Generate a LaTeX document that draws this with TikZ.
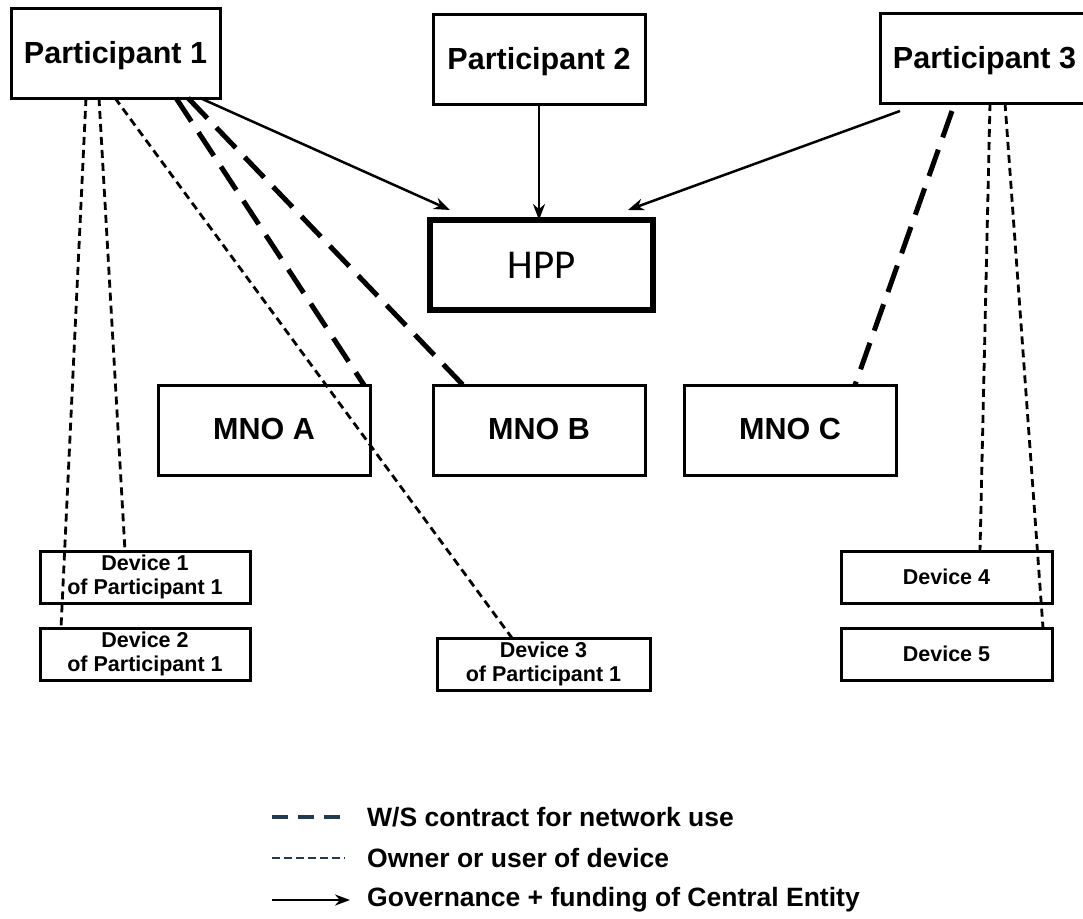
\documentclass[tikz,border=0pt]{standalone}
\usepackage{fontspec}
\setmainfont{Liberation Sans}
\newfontfamily\carlito{Carlito}
\usetikzlibrary{arrows.meta,calc}
\definecolor{legblue}{HTML}{23394F}
\begin{document}
\begin{tikzpicture}[x=1pt,y=-1pt,
  box/.style={draw,line width=3pt,inner sep=0pt,outer sep=0pt,anchor=north west,align=center},
  bigbox/.style={box,minimum height=90pt,text depth=2pt,font=\fontsize{30.5}{32}\selectfont\bfseries},
  devbox/.style={box,minimum height=52pt,font=\fontsize{21.5}{23.5}\selectfont\bfseries},
  thin dash/.style={line width=2.8pt,dash pattern=on 8pt off 5pt},
  thick dash/.style={line width=5pt,dash pattern=on 28pt off 13pt},
  gov/.style={line width=2.5pt,-{Stealth[length=16pt,width=12pt]}},
  legtext/.style={anchor=west,inner sep=0pt,font=\fontsize{26.5}{28}\selectfont\bfseries}
]
\useasboundingbox (0,0) rectangle (1083,918);
% top row
\node[bigbox,minimum width=209pt] (p1) at (11,8) {Participant 1};
\node[bigbox,minimum width=212pt] (p2) at (433,14) {Participant 2};
\node[bigbox,minimum width=209pt] (p3) at (880,13) {Participant 3};
% HPP
\node[box,line width=5.5pt,minimum width=223pt,minimum height=90pt,font=\carlito\fontsize{41}{42}\selectfont] (hpp) at (430,220) {HPP};
% MNOs
\node[bigbox,minimum width=212pt] (mnoa) at (158,385) {MNO A};
\node[bigbox,minimum width=212pt] (mnob) at (433,385) {MNO B};
\node[bigbox,minimum width=212pt] (mnoc) at (684,385) {MNO C};
% devices
\node[devbox,minimum width=210pt] (d1) at (40,551) {Device 1\\of Participant 1};
\node[devbox,minimum width=210pt] (d2) at (40,628) {Device 2\\of Participant 1};
\node[devbox,minimum width=213pt] (d3) at (437,638) {Device 3\\of Participant 1};
\node[devbox,minimum width=211pt] (d4) at (841,551) {Device 4};
\node[devbox,minimum width=211pt] (d5) at (841,628) {Device 5};
% Participant 1 connectors
\draw[thin dash] ([xshift=75pt]p1.south west) -- ([xshift=21pt]d2.north west);
\draw[thin dash] ([xshift=88pt]p1.south west) -- ([xshift=85pt]d1.north west);
\draw[thin dash] ([xshift=104pt]p1.south west) -- ([xshift=75pt]d3.north west);
\draw[thick dash] ([xshift=165pt]p1.south west) -- ([xshift=206pt]mnoa.north west);
\draw[thick dash] ([xshift=177pt]p1.south west) -- ([xshift=30pt]mnob.north west);
\coordinate (hppl) at ([xshift=20pt,yshift=10pt]hpp.north west);
\draw[gov] ([xshift=189pt]p1.south west) -- (hppl);
% Participant 2
\draw[gov] (p2.south) -- (p2.south |- hpp.north);
% Participant 3 connectors
\coordinate (p3a) at ([xshift=20pt,yshift=-8pt]p3.south west);
\coordinate (hppr) at ([xshift=-25pt,yshift=10pt]hpp.north east);
\draw[gov] (p3a) -- (hppr);
\draw[thick dash] ([xshift=72pt,yshift=-8pt]p3.south west) -- ([xshift=171pt]mnoc.north west);
\draw[thin dash] ([xshift=110pt]p3.south west) -- ([xshift=139pt]d4.north west);
\draw[thin dash] ([xshift=125pt]p3.south west) -- ([xshift=202pt]d5.north west);
% legend
\coordinate (l1a) at (272,817); \coordinate (l1b) at (345,817);
\coordinate (l2a) at (272,858); \coordinate (l2b) at (345,858);
\coordinate (l3a) at (272,900); \coordinate (l3b) at (350,900);
\draw[legblue,line width=4.5pt,dash pattern=on 16pt off 10pt] (l1a) -- (l1b);
\draw[legblue,line width=2.5pt,dash pattern=on 8pt off 4pt] (l2a) -- (l2b);
\draw[line width=2.5pt,-{Stealth[length=15pt,width=11pt]}] (l3a) -- (l3b);
\node[legtext] (t1) at (367,817) {W/S contract for network use};
\node[legtext] (t2) at (367,858) {Owner or user of device};
\node[legtext] (t3) at (367,900) {Governance + funding of Central Entity};
\end{tikzpicture}
\end{document}
